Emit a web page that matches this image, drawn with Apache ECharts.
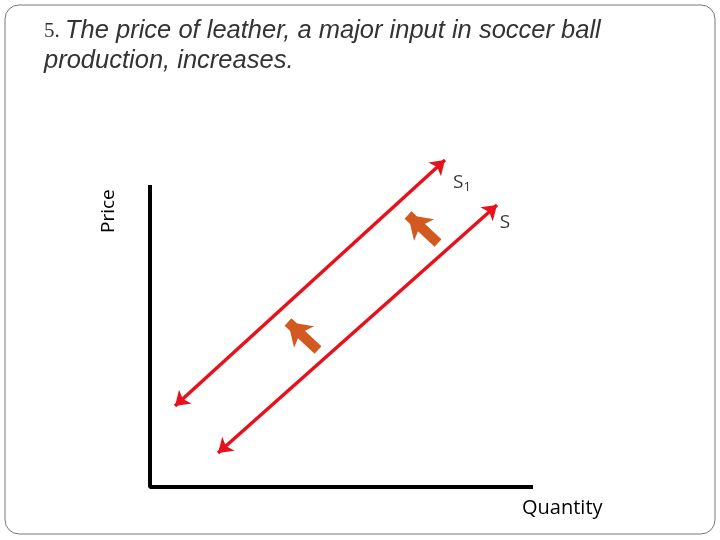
<!DOCTYPE html>
<html><head><meta charset="utf-8">
<script src="https://cdn.jsdelivr.net/npm/echarts@6/dist/echarts.min.js"></script>
<style>html,body{margin:0;padding:0;background:#fff}#c{width:720px;height:540px}</style>
</head><body><div id="c"></div>
<script>
// Curves in quantity/price units (arbitrary)
const supplyS1 = [[25, 81], [295, 327]];
const supplyS = [[68, 34], [347, 282]];
const shiftArrows = [[[168, 137], [138, 165]], [[288, 244], [258, 272]]];
const axesPath = [[0, 302], [0, 0], [383, 0]];
const curveLabels = [{name: 'S1', at: [312, 304]}, {name: 'S', at: [355, 264]}];

const chart = echarts.init(document.getElementById('c'));
chart.setOption({
  backgroundColor: '#fff',
  animation: false,
  graphic: [
    {type: 'rect', shape: {x: 5, y: 5, width: 710, height: 529, r: 14}, style: {fill: 'none', stroke: '#777', lineWidth: 1}},
    {type: 'text', left: 44, top: 18, style: {rich: {n: {fontFamily: 'Liberation Serif', fontSize: 21, fill: '#333'}, t: {fontFamily: 'Liberation Sans', fontStyle: 'italic', fontSize: 25.5, fill: '#333'}}, text: '{n|5. }{t|The price of leather, a major input in soccer ball}'}},
    {type: 'text', left: 44, top: 48, style: {fontFamily: 'Liberation Sans', fontStyle: 'italic', fontSize: 25.5, fill: '#333', text: 'production, increases.'}},
    {type: 'text', x: 99, y: 233, rotation: Math.PI / 2, style: {fontFamily: 'Open Sans', fontSize: 19, fill: '#000', text: 'Price'}},
    {type: 'text', left: 522, top: 498, style: {fontFamily: 'Open Sans', fontSize: 20, fill: '#000', text: 'Quantity'}}
  ],
  grid: {left: 150, right: 187, top: 150, bottom: 53},
  xAxis: {type: 'value', min: 0, max: 383, show: false},
  yAxis: {type: 'value', min: 0, max: 337, show: false},
  series: [
    {type: 'line', data: axesPath, symbol: 'none', lineStyle: {color: '#000', width: 4}},
    {type: 'lines', coordinateSystem: 'cartesian2d', symbol: ['arrow', 'arrow'], symbolSize: 14,
      lineStyle: {color: '#e8111b', width: 3.5, opacity: 1},
      data: [{coords: supplyS1}, {coords: supplyS}]},
    {type: 'lines', coordinateSystem: 'cartesian2d', symbol: ['none', 'arrow'], symbolSize: 22,
      lineStyle: {color: '#d2591f', width: 10, opacity: 1, borderColor: '#8a3a10'},
      data: shiftArrows.map(c => ({coords: c}))},
    {type: 'scatter', symbolSize: 0,
      data: curveLabels.map(l => ({value: l.at, name: l.name})),
      label: {show: true, position: 'inside', fontFamily: 'Open Sans', fontSize: 19, color: '#000',
        formatter: p => p.name === 'S1' ? 'S{s|1}' : 'S',
        rich: {s: {fontSize: 13, verticalAlign: 'bottom', padding: [8, 0, 0, 0], fontFamily: 'Open Sans', color: '#000'}}}}
  ]
});
</script></body></html>
